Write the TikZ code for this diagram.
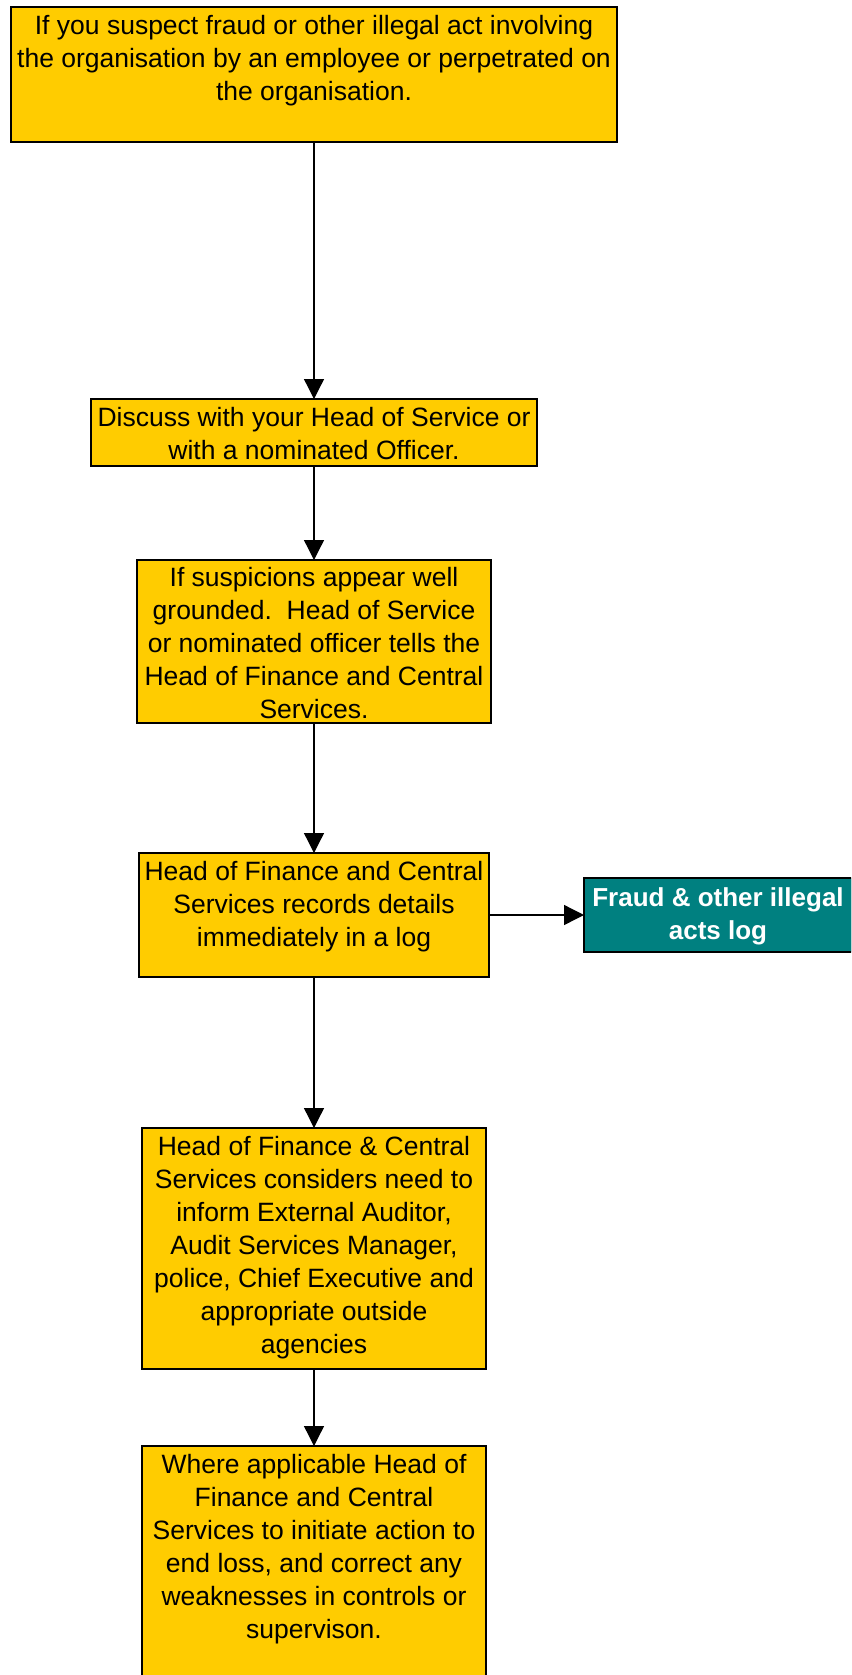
\documentclass[tikz,border=0pt]{standalone}
\usepackage{fontspec}
\setmainfont{Liberation Sans}
\usetikzlibrary{arrows.meta}
\definecolor{boxyellow}{HTML}{FFCC00}
\definecolor{logteal}{HTML}{008080}
\begin{document}
\begin{tikzpicture}[x=1pt,y=-1pt,
  stepbox/.style={draw=black, line width=1.3pt, fill=boxyellow, inner sep=0pt, outer sep=0pt, anchor=north west},
  logbox/.style={stepbox, fill=logteal},
  txt/.style={align=center, inner sep=0pt, anchor=north, font=\fontsize{26.5}{33}\selectfont},
  logtxt/.style={txt, text=white, font=\fontsize{26}{33.3}\selectfont\bfseries},
  flow/.style={line width=1.3pt, -{Triangle[width=20pt,length=20pt]}}]
\useasboundingbox (0,0) rectangle (851,1675);
\clip (0,0) rectangle (851,1675);

\node[stepbox, minimum width=606pt, minimum height=135pt] (b1) at (11,7) {};
\node[txt] (t1) at ([yshift=-8pt]b1.north) {If you suspect fraud or other illegal act involving\\the organisation by an employee or perpetrated on\\the organisation.};

\node[stepbox, minimum width=446pt, minimum height=67pt] (b2) at (91,399) {};
\node[txt] (t2) at ([yshift=-8pt]b2.north) {Discuss with your Head of Service or\\with a nominated Officer.};

\node[stepbox, minimum width=354pt, minimum height=163pt] (b3) at (137,560) {};
\node[txt] (t3) at ([yshift=-7pt]b3.north) {If suspicions appear well\\grounded.\ \ Head of Service\\or nominated officer tells the\\Head of Finance and Central\\Services.};

\node[stepbox, minimum width=350pt, minimum height=124pt] (b4) at (139,853) {};
\node[txt] (t4) at ([yshift=-8pt]b4.north) {Head of Finance and Central\\Services records details\\immediately in a log};

\node[logbox, minimum width=268pt, minimum height=74pt] (log) at (584,878) {};
\node[logtxt] (tlog) at ([yshift=-9pt]log.north) {Fraud \& other illegal\\acts log};

\node[stepbox, minimum width=344pt, minimum height=241pt] (b6) at (142,1128) {};
\node[txt] (t6) at ([yshift=-8pt]b6.north) {Head of Finance \& Central\\Services considers need to\\inform External Auditor,\\Audit Services Manager,\\police, Chief Executive and\\appropriate outside\\agencies};

\node[stepbox, minimum width=344pt, minimum height=250pt] (b7) at (142,1446) {};
\node[txt] (t7) at ([yshift=-8pt]b7.north) {Where applicable Head of\\Finance and Central\\Services to initiate action to\\end loss, and correct any\\weaknesses in controls or\\supervison.};

\draw[flow] (b1.south) -- (b2.north);
\draw[flow] (b2.south) -- (b3.north);
\draw[flow] (b3.south) -- (b4.north);
\draw[flow] (b4.east) -- (log.west);
\draw[flow] (b4.south) -- (b6.north);
\draw[flow] (b6.south) -- (b7.north);
\end{tikzpicture}
\end{document}
